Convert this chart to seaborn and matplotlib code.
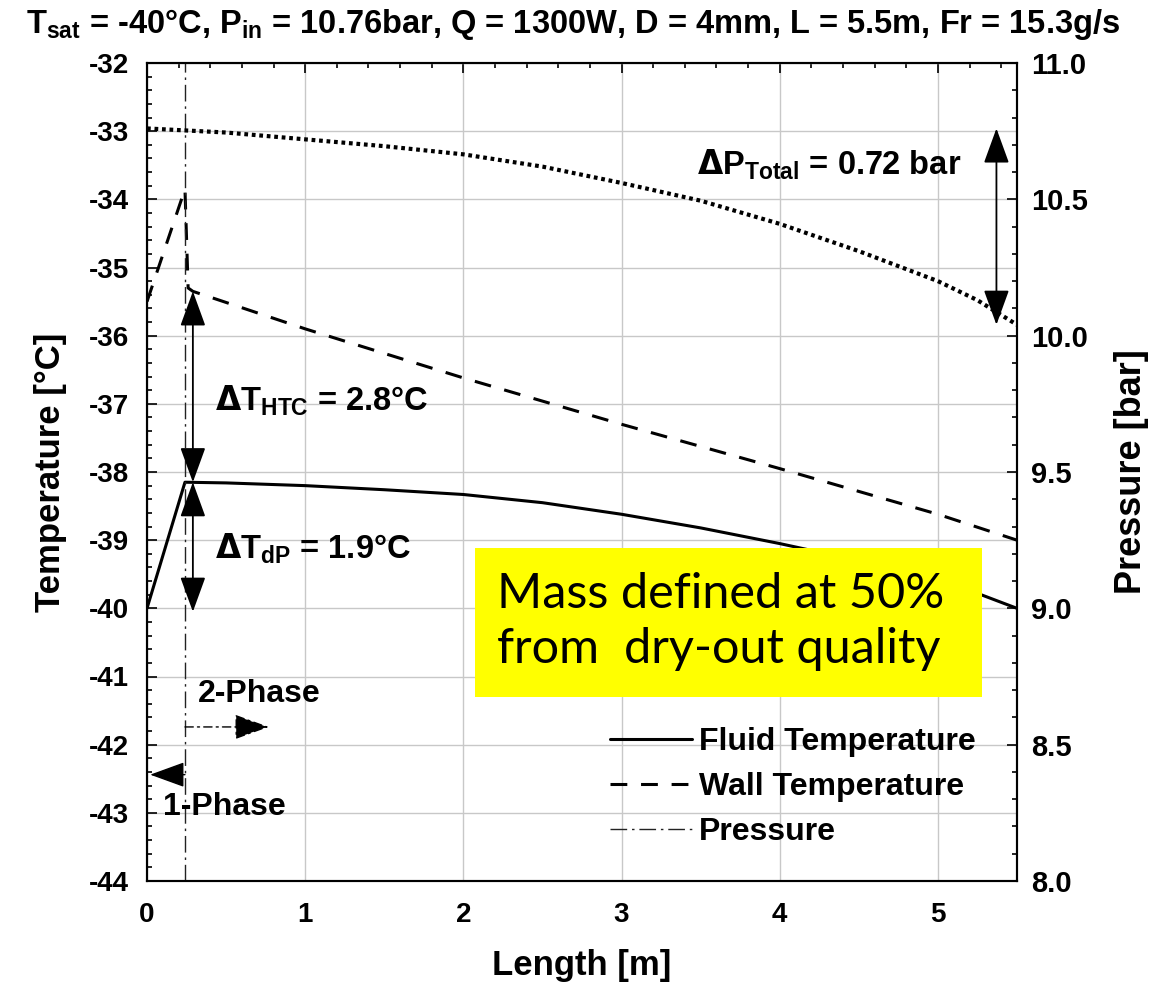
import matplotlib
matplotlib.use("Agg")
import matplotlib.pyplot as plt
from matplotlib.lines import Line2D
from matplotlib.patches import Rectangle
from matplotlib.ticker import MultipleLocator, FormatStrFormatter
import seaborn as sns

# Fluid (saturation) temperature along the tube: length [m], temperature [°C]
fluid_x = [0.0, 0.24, 0.5, 1.0, 1.5, 2.0, 2.5, 3.0, 3.5, 4.0, 4.5, 5.0, 5.25, 5.5]
fluid_t = [-40.0, -38.15, -38.16, -38.2, -38.26, -38.33, -38.45, -38.62, -38.82,
           -39.05, -39.3, -39.6, -39.78, -40.0]

# Inner wall temperature: length [m], temperature [°C]
wall_x = [0.0, 0.24, 0.26, 0.29, 1.0, 2.0, 3.0, 4.0, 5.0, 5.5]
wall_t = [-35.5, -33.85, -35.3, -35.35, -35.9, -36.62, -37.3, -37.95, -38.62, -39.0]

# Pressure along the tube: length [m], pressure [bar]
pres_x = [0.0, 0.5, 1.0, 1.5, 2.0, 2.5, 3.0, 3.5, 4.0, 4.5, 5.0, 5.25, 5.5]
pres_p = [10.76, 10.745, 10.72, 10.695, 10.665, 10.62, 10.56, 10.495, 10.41,
          10.31, 10.2, 10.13, 10.04]

# Characteristic values
phase_change_x = 0.24      # end of the single-phase section [m]
arrow_x = 0.29             # position of the temperature difference arrows [m]
t_peak = -38.15            # fluid temperature at onset of boiling [°C]
dT_htc = 2.8               # wall-to-fluid difference [°C]
dT_dp = 1.9                # saturation temperature drop from pressure loss [°C]
dP_total = 0.72            # total pressure drop [bar]
dP_arrow_x = 5.37          # position of the pressure drop arrow [m]

legend_labels = ["Fluid Temperature", "Wall Temperature", "Pressure"]
title = (r"T$_\mathregular{sat}$ = -40°C, P$_\mathregular{in}$ = 10.76bar, "
         r"Q = 1300W, D = 4mm, L = 5.5m, Fr = 15.3g/s")
note_lines = ["Mass defined at 50%", "from  dry-out quality"]

sns.set_style("white")
plt.rcParams["font.family"] = ["Liberation Sans", "DejaVu Sans"]
plt.rcParams["font.weight"] = "bold"
plt.rcParams["axes.labelweight"] = "bold"
plt.rcParams["axes.unicode_minus"] = False
for key in ("text.color", "axes.labelcolor", "xtick.color", "ytick.color"):
    plt.rcParams[key] = "black"

W, H = 1168, 984
fig = plt.figure(figsize=(W / 100, H / 100), dpi=100)
ax = fig.add_axes([147 / W, 1 - 881 / H, 870 / W, 818 / H])
ax2 = ax.twinx()

# Curves
sns.lineplot(x=fluid_x, y=fluid_t, ax=ax, color="black", lw=2.2,
             estimator=None, sort=False)
sns.lineplot(x=wall_x, y=wall_t, ax=ax, color="black", lw=2.2,
             estimator=None, sort=False)
ax.lines[-1].set_linestyle((0, (5.5, 4.5)))
sns.lineplot(x=pres_x, y=pres_p, ax=ax2, color="black", lw=3.0,
             estimator=None, sort=False)
ax2.lines[-1].set_linestyle((0, (0.9, 0.9)))

# Phase boundary
ax.axvline(phase_change_x, color="#222222", lw=1.0,
           linestyle=(0, (12, 3.5, 1.8, 3.5)), zorder=3)

# Axes limits and ticks
ax.set_xlim(0, 5.5)
ax.set_ylim(-44, -32)
ax2.set_ylim(8, 11)
ax.xaxis.set_major_locator(MultipleLocator(1))
ax.xaxis.set_minor_locator(MultipleLocator(0.2))
ax.yaxis.set_major_locator(MultipleLocator(1))
ax.yaxis.set_minor_locator(MultipleLocator(0.2))
ax2.yaxis.set_major_locator(MultipleLocator(0.5))
ax2.yaxis.set_minor_locator(MultipleLocator(0.1))
ax2.yaxis.set_major_formatter(FormatStrFormatter("%.1f"))

ax.tick_params(which="both", direction="in", top=True, right=False,
               width=1.2, color="black")
ax.tick_params(which="major", length=7, labelsize=20)
ax.tick_params(which="minor", length=3.5)
ax.tick_params(axis="y", pad=13)
ax.tick_params(axis="x", pad=15)
ax2.tick_params(which="both", direction="in", right=True, width=1.2, color="black")
ax2.tick_params(which="major", length=7, labelsize=21, pad=10)
ax2.tick_params(which="minor", length=3.5)

for a in (ax, ax2):
    for s in a.spines.values():
        s.set_color("black")
        s.set_linewidth(1.5)

ax.grid(True, which="major", color="#c8c8c8", lw=1.0)
ax.set_axisbelow(True)

ax.set_xlabel("Length [m]", fontsize=25)
ax.set_ylabel("Temperature [°C]", fontsize=25)
ax2.set_ylabel("Pressure [bar]", fontsize=26)
ax.xaxis.set_label_coords(0.5, -0.083)
ax.yaxis.set_label_coords(-0.092, 0.5)
ax2.yaxis.set_label_coords(1.112, 0.5)

ax.text(0.49, 1.0367, title, transform=ax.transAxes, ha="center",
        va="baseline", fontsize=23.5)

# Temperature difference arrows
arrow_style = "<|-|>,head_length=1.1,head_width=0.4"
arrow_kw = dict(arrowstyle=arrow_style, color="black", lw=1.3,
                mutation_scale=20, shrinkA=0, shrinkB=0)
ax.annotate("", xy=(arrow_x, t_peak + dT_htc), xytext=(arrow_x, t_peak),
            arrowprops=arrow_kw)
ax.annotate("", xy=(arrow_x, t_peak - dT_dp), xytext=(arrow_x, t_peak),
            arrowprops=arrow_kw)
ax.text(0.43, -37.09, r"$\Delta$T$_\mathregular{HTC}$ = %.1f°C" % dT_htc,
        fontsize=23.5, va="baseline", ha="left")
ax.text(0.43, -39.26, r"$\Delta$T$_\mathregular{dP}$ = %.1f°C" % dT_dp,
        fontsize=23.5, va="baseline", ha="left")

# Pressure drop arrow
ax2.annotate("", xy=(dP_arrow_x, pres_p[0]), xytext=(dP_arrow_x, pres_p[0] - dP_total),
             arrowprops=arrow_kw)
ax.text(3.48, -33.64, r"$\Delta$P$_\mathregular{Total}$ = %.2f bar" % dP_total,
        fontsize=23.5, va="baseline", ha="left")

# Phase region markers
head_style = "-|>,head_length=1.1,head_width=0.4"
ax.annotate("", xy=(0.77, -41.74), xytext=(phase_change_x, -41.74),
            arrowprops=dict(arrowstyle=head_style, color="black", lw=1.0,
                            linestyle=(0, (6, 3, 1.5, 3)),
                            mutation_scale=20, shrinkA=0, shrinkB=0))
ax.text(0.32, -41.37, "2-Phase", fontsize=23, va="baseline", ha="left")
ax.annotate("", xy=(0.02, -42.44), xytext=(phase_change_x, -42.44),
            arrowprops=dict(arrowstyle=head_style, color="black", lw=1.0,
                            mutation_scale=20, shrinkA=0, shrinkB=0))
ax.text(0.10, -43.03, "1-Phase", fontsize=23, va="baseline", ha="left")

# Legend
handles = [
    Line2D([], [], color="black", lw=2.2),
    Line2D([], [], color="black", lw=2.2, linestyle=(0, (5.5, 4.5))),
    Line2D([], [], color="#222222", lw=1.0, linestyle=(0, (12, 3.5, 1.8, 3.5))),
]
ax2.legend(handles, legend_labels, loc="center", bbox_to_anchor=(0.7425, 0.115),
           frameon=False, prop={"weight": "bold", "size": 23},
           handlelength=2.57, handletextpad=0.22, labelspacing=0.47,
           borderpad=0, borderaxespad=0)

# Highlighted note
ax2.add_patch(Rectangle((0.377, 0.225), 0.583, 0.182, transform=ax2.transAxes,
                        facecolor="#ffff00", edgecolor="none", zorder=10))
for y, line in zip((0.334, 0.2665), note_lines):
    ax2.text(0.402, y, line, transform=ax2.transAxes, family="Lato",
             weight="normal", fontsize=35, va="baseline", zorder=11)

fig.savefig("out.png", dpi=100)
